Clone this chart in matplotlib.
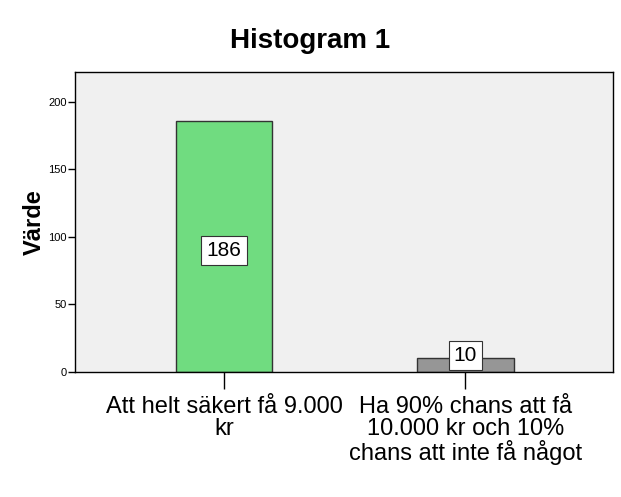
import matplotlib
matplotlib.use('Agg')
import matplotlib.pyplot as plt
import numpy as np

# data
categories = ['Att helt säkert få 9.000\nkr',
              'Ha 90% chans att få\n10.000 kr och 10%\nchans att inte få något']
values = [186, 10]
bar_colors = ['#70dc80', '#969696']
yticks = [0, 50, 100, 150, 200]

plt.rcParams['font.family'] = ['Liberation Sans', 'DejaVu Sans']

fig = plt.figure(figsize=(6.21, 4.97), dpi=100)
ax = fig.add_axes([75/621, 1 - 372/497, 538/621, 300/497])
ax.set_facecolor('#f0f0f0')

x = np.arange(len(categories))
ax.bar(x, values, width=0.4, color=bar_colors, edgecolor='#333333', linewidth=1, zorder=2)

for xi, v in zip(x, values):
    ax.text(xi, max(v / 2 - 3, 12), str(v), ha='center', va='center', fontsize=15, zorder=3,
            bbox=dict(boxstyle='square,pad=0.25', fc='white', ec='#333333', lw=0.8))

ax.set_xlim(-0.617, 1.611)
ax.set_ylim(0, 222)
ax.set_yticks(yticks)
ax.set_yticklabels([str(t) for t in yticks], fontsize=8)
ax.set_xticks(x)
ax.set_xticklabels(categories, fontsize=17, linespacing=1.0)
ax.tick_params(axis='y', direction='out', length=5, width=1, pad=1)
ax.tick_params(axis='x', direction='out', length=12, width=1, pad=5)
for s in ax.spines.values():
    s.set_color('black')
    s.set_linewidth(1)

ax.set_ylabel('Värde', fontsize=17, fontweight='bold', labelpad=2)
fig.text(0.5, 1 - 41/497, 'Histogram 1', ha='center', va='center', fontsize=20, fontweight='bold')

fig.savefig('out.png', dpi=100)
